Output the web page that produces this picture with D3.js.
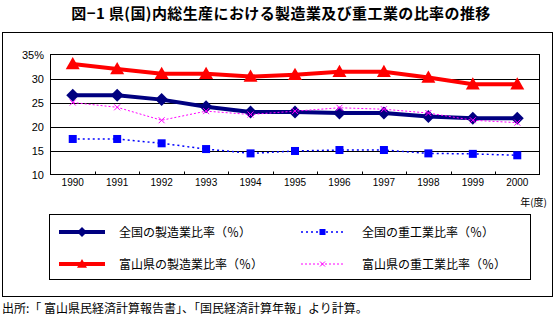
<!DOCTYPE html>
<html><head><meta charset="utf-8">
<script src="https://cdn.jsdelivr.net/npm/d3@7"></script>
<style>
html,body{margin:0;padding:0;background:#fff;}
svg{display:block;}
text{font-family:"Liberation Sans","Noto Sans CJK JP",sans-serif;}
.jp{font-family:"Noto Sans CJK JP",sans-serif;}
</style></head><body>
<svg id="c" width="555" height="322"></svg>
<script>
const years = ["1990","1991","1992","1993","1994","1995","1996","1997","1998","1999","2000"];
const natMfg   = [26.5,26.5,25.6,24.1,23.0,23.0,22.8,22.8,22.1,21.7,21.7];
const natHeavy = [17.4,17.4,16.5,15.3,14.4,14.9,15.1,15.1,14.4,14.3,14.0];
const toyMfg   = [33.0,32.0,31.0,31.0,30.4,30.8,31.4,31.4,30.2,28.8,28.8];
const toyHeavy = [25.0,24.0,21.3,23.2,22.5,23.2,23.9,23.6,22.8,21.3,20.8];
const yTicks = [10,15,20,25,30,35];
const seriesNames = ["全国の製造業比率（％）","全国の重工業比率（％）","富山県の製造業比率（％）","富山県の重工業比率（％）"];
const title = "図−1 県(国)内総生産における製造業及び重工業の比率の推移";
const source = "出所:「 富山県民経済計算報告書」、「国民経済計算年報」より計算。";
const unitLabel = "年(度)";

const svg = d3.select("#c");
// title
svg.append("text").attr("class","jp").attr("x",281).attr("y",19).attr("text-anchor","middle")
  .attr("font-size",15).attr("letter-spacing",0.4).attr("font-weight","bold").text(title);
// outer box
svg.append("rect").attr("x",2.5).attr("y",32.5).attr("width",550).attr("height",264)
  .attr("fill","none").attr("stroke","#000").attr("stroke-width",1);

const L=50.5, R=539.5, T=54.5, B=174.5;
const x = d3.scaleBand().domain(years).range([L,R]).padding(0);
const y = d3.scaleLinear().domain([10,35]).range([B,T]);
const cx = d => x(d)+x.bandwidth()/2;

// gridlines
svg.append("g").selectAll("line").data(yTicks.filter(v=>v>10&&v<35)).join("line")
  .attr("x1",L).attr("x2",R).attr("y1",d=>Math.round(y(d))+0.5).attr("y2",d=>Math.round(y(d))+0.5)
  .attr("stroke","#000").attr("stroke-width",1);
// plot border
svg.append("rect").attr("x",L).attr("y",T).attr("width",R-L).attr("height",B-T)
  .attr("fill","none").attr("stroke","#000").attr("stroke-width",1);

// y axis labels
svg.append("g").selectAll("text").data(yTicks).join("text")
  .attr("x",44).attr("y",d=>y(d)+4).attr("text-anchor","end").attr("font-size",11)
  .text(d=>d===35?"35%":d);

// x axis: inner tick marks at band boundaries
const xAxis = d3.axisBottom(x).tickSize(0).tickPadding(6).tickFormat(d=>d);
const gx = svg.append("g").attr("transform",`translate(0,${B})`).call(xAxis);
gx.select(".domain").remove();
gx.selectAll("text").attr("font-size",10).attr("font-family","Liberation Sans, sans-serif").attr("dy","0.55em");
svg.append("g").selectAll("line").data(years.slice(1)).join("line")
  .attr("x1",d=>Math.round(x(d))+0.5).attr("x2",d=>Math.round(x(d))+0.5)
  .attr("y1",B).attr("y2",B-3).attr("stroke","#000");

svg.append("text").attr("class","jp").attr("x",547).attr("y",206).attr("text-anchor","end")
  .attr("font-size",10).text(unitLabel);

const line = d3.line().x((d,i)=>cx(years[i])).y(d=>y(d));

function markerDiamond(g,px,py,s){ g.append("path").attr("d",`M${px},${py-s}L${px+s},${py}L${px},${py+s}L${px-s},${py}Z`).attr("fill","#000080"); }
function markerTri(g,px,py,s){ g.append("path").attr("d",`M${px},${py-s}L${px+s},${py+s*0.75}L${px-s},${py+s*0.75}Z`).attr("fill","#ff0000"); }
function markerSq(g,px,py,s){ g.append("rect").attr("x",px-s).attr("y",py-s).attr("width",2*s).attr("height",2*s).attr("fill","#0000ff"); }
function markerX(g,px,py,s){ g.append("path").attr("d",`M${px-s},${py-s}L${px+s},${py+s}M${px-s},${py+s}L${px+s},${py-s}`).attr("stroke","#ff00ff").attr("stroke-width",1).attr("fill","none"); }

const series = [
  {vals:natMfg, color:"#000080", w:4, dash:null, mk:markerDiamond, ms:6.5},
  {vals:natHeavy, color:"#0000ff", w:1.5, dash:"2,3", mk:markerSq, ms:4},
  {vals:toyMfg, color:"#ff0000", w:4, dash:null, mk:markerTri, ms:7},
  {vals:toyHeavy, color:"#ff00ff", w:1, dash:"2,2", mk:markerX, ms:3},
];
series.forEach(s=>{
  const g = svg.append("g");
  g.append("path").datum(s.vals).attr("d",line).attr("fill","none")
    .attr("stroke",s.color).attr("stroke-width",s.w).attr("stroke-dasharray",s.dash);
  s.vals.forEach((v,i)=>s.mk(g,cx(years[i]),y(v),s.ms));
});

// legend
svg.append("rect").attr("x",49.5).attr("y",214.5).attr("width",481).attr("height",65)
  .attr("fill","none").attr("stroke","#000").attr("stroke-width",1);
const legPos = [[59,105,119,232],[301,344,362,232],[59,105,119,264],[301,344,362,264]];
series.forEach((s,i)=>{
  const [x1,x2,tx,ly]=legPos[i];
  const g=svg.append("g");
  g.append("line").attr("x1",x1).attr("x2",x2).attr("y1",ly).attr("y2",ly)
    .attr("stroke",s.color).attr("stroke-width",s.w).attr("stroke-dasharray",s.dash);
  s.mk(g,(x1+x2)/2,ly,i===1?3:(i===3?2.5:5));
  svg.append("text").attr("class","jp").attr("x",tx).attr("y",ly+4.5).attr("font-size",12)
    .text(seriesNames[i]);
});

svg.append("text").attr("class","jp").attr("x",2).attr("y",313).attr("font-size",12).text(source);
</script>
</body></html>
